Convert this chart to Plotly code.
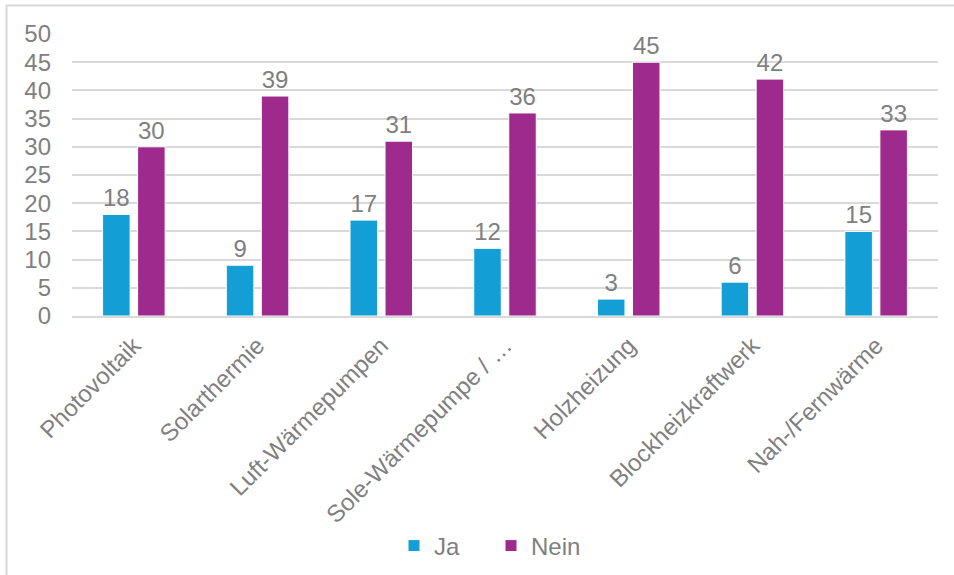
import plotly.graph_objects as go

categories = ["Photovoltaik", "Solarthermie", "Luft-Wärmepumpen", "Sole-Wärmepumpe / …",
              "Holzheizung", "Blockheizkraftwerk", "Nah-/Fernwärme"]
ja_values = [18, 9, 17, 12, 3, 6, 15]
nein_values = [30, 39, 31, 36, 45, 42, 33]
y_ticks = [0, 5, 10, 15, 20, 25, 30, 35, 40, 45, 50]

GRAY = "#7F7F7F"
FONT = "Liberation Sans, Arial, sans-serif"
FS = 24

fig = go.Figure()
fig.add_trace(go.Bar(name="Ja", x=categories, y=ja_values, text=ja_values,
                     textposition="outside", marker=dict(color="#139FD6", line=dict(color="white", width=1)),
                     textfont=dict(color=GRAY, size=FS, family=FONT), cliponaxis=False))
fig.add_trace(go.Bar(name="Nein", x=categories, y=nein_values, text=nein_values,
                     textposition="outside", marker=dict(color="#9E2A8E", line=dict(color="white", width=1)),
                     textfont=dict(color=GRAY, size=FS, family=FONT), cliponaxis=False))

W, H = 954, 575
L, R, T, B = 72, 16, 34, 259
pw, ph = W - L - R, H - T - B

def px_x(p):
    return (p - L) / pw

def px_y(p):
    return (H - B - p) / ph

fig.update_layout(
    width=W, height=H,
    margin=dict(l=L, r=R, t=T, b=B, autoexpand=False),
    paper_bgcolor="white", plot_bgcolor="white",
    barmode="group", bargap=0.434, bargroupgap=0.214,
    font=dict(family=FONT, color=GRAY, size=FS),
    showlegend=True,
    legend=dict(orientation="h", x=px_x(491) - 18 / pw * 0, xanchor="center",
                yref="container", y=1 - 546 / H, yanchor="middle",
                font=dict(size=FS, color=GRAY, family=FONT), itemwidth=30, traceorder="normal",
                entrywidth=52, entrywidthmode="pixels"),
    xaxis=dict(tickangle=-45, showgrid=False, showline=True, linecolor="#D9D9D9", linewidth=2,
               tickfont=dict(size=FS, color=GRAY, family=FONT), ticks="", ticklabelstandoff=4,
               automargin=False),
    yaxis=dict(range=[0, 50], tickvals=y_ticks, showgrid=True, gridcolor="#D9D9D9", gridwidth=2,
               zeroline=False, showline=False, ticks="", ticklabelstandoff=20, automargin=False,
               tickfont=dict(size=FS, color=GRAY, family=FONT)),
    shapes=[dict(type="rect", xref="paper", yref="paper",
                 x0=px_x(6.5), x1=px_x(962), y0=px_y(585), y1=px_y(5.5),
                 line=dict(color="#D9D9D9", width=2), layer="below")],
)

fig.write_html("out.html", config={"displayModeBar": False},
               post_script="document.body.style.margin='0px';")
